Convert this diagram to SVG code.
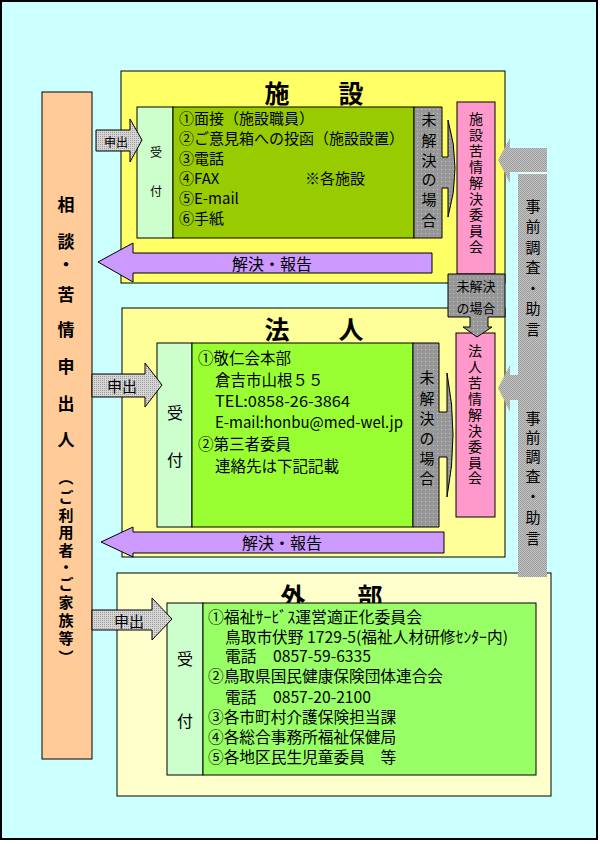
<svg xmlns="http://www.w3.org/2000/svg" width="600" height="844" viewBox="0 0 600 844">
<style>
text{font-family:"Noto Sans CJK JP","Noto Sans",sans-serif;fill:#000;dominant-baseline:central}
.ln{stroke:#000;stroke-width:1}
.t14{font-size:14px}
.t15{font-size:15px}
.t155{font-size:15.5px}
.t157{font-size:15.7px}
.t12{font-size:12px}
.t13{font-size:13px}
.t16{font-size:16px}
.ttl{font-size:25px;font-weight:bold}
.c{text-anchor:middle}
</style>
<defs>
<pattern id="pl" width="2" height="2" patternUnits="userSpaceOnUse"><rect width="2" height="2" fill="#D6D6D6"/><rect width="1" height="1" fill="#9C9C9C"/></pattern>
<pattern id="pd" width="4" height="4" patternUnits="userSpaceOnUse"><rect width="4" height="4" fill="#979797"/><rect x="1" y="1" width="1" height="1" fill="#C4C4C4"/></pattern>
<pattern id="pm" width="2" height="2" patternUnits="userSpaceOnUse"><rect width="2" height="2" fill="#C6C6C6"/><rect width="1" height="1" fill="#9A9A9A"/><rect x="1" y="1" width="1" height="1" fill="#9A9A9A"/></pattern>
</defs>

<rect x="1" y="1" width="596" height="838" fill="#CCFFFF" stroke="#000" stroke-width="2"/>

<g id="applicant">
<rect class="ln" x="42" y="92" width="50" height="667" fill="#FFCC99"/>
<text class="c" style="font-size:17px;font-weight:bold"><tspan x="66" y="203">相</tspan><tspan x="66" y="240">談</tspan><tspan x="66" y="263">・</tspan><tspan x="66" y="293">苦</tspan><tspan x="66" y="328">情</tspan><tspan x="66" y="365">申</tspan><tspan x="66" y="402">出</tspan><tspan x="66" y="438">人</tspan></text>
<text class="c" style="font-size:15px;font-weight:bold"><tspan x="66" y="476">︵</tspan><tspan x="66" y="496">ご</tspan><tspan x="66" y="514">利</tspan><tspan x="66" y="531">用</tspan><tspan x="66" y="549">者</tspan><tspan x="66" y="566">・</tspan><tspan x="66" y="583">ご</tspan><tspan x="66" y="601">家</tspan><tspan x="66" y="619">族</tspan><tspan x="66" y="637">等</tspan><tspan x="66" y="656">︶</tspan></text>
</g>

<g id="shisetsu">
<rect class="ln" x="121" y="71" width="384" height="212" fill="#FFFF66"/>
<text class="ttl c"><tspan x="277" y="92">施</tspan><tspan x="351" y="92">設</tspan></text>
<rect class="ln" x="137" y="107" width="36" height="131" fill="#CCFFCC"/>
<text class="t12 c"><tspan x="156" y="151">受</tspan><tspan x="156" y="190">付</tspan></text>
<rect class="ln" x="173" y="107" width="241" height="131" fill="#99CC00"/>
<text class="t15"><tspan x="179" y="117">①面接（施設職員）</tspan><tspan x="179" y="137">②ご意見箱への投函（施設設置）</tspan><tspan x="179" y="157">③電話</tspan><tspan x="179" y="177">④FAX</tspan><tspan x="305" y="177">※各施設</tspan><tspan x="179" y="197">⑤E-mail</tspan><tspan x="179" y="217">⑥手紙</tspan></text>
<path class="ln" d="M414,107 H442 V157 H448 V120 Q462,168 448,217 V188 H442 V238 H414 Z" fill="url(#pd)"/>
<text class="t15 c"><tspan x="429" y="118">未</tspan><tspan x="429" y="139">解</tspan><tspan x="429" y="159">決</tspan><tspan x="429" y="178">の</tspan><tspan x="429" y="198">場</tspan><tspan x="429" y="219">合</tspan></text>
</g>

<g id="shisetsu-committee">
<rect class="ln" x="457" y="102" width="38" height="172" fill="#FF99CC"/>
<text class="t14 c"><tspan x="476" y="118">施</tspan><tspan x="476" y="134">設</tspan><tspan x="476" y="150">苦</tspan><tspan x="476" y="166">情</tspan><tspan x="476" y="182">解</tspan><tspan x="476" y="198">決</tspan><tspan x="476" y="214">委</tspan><tspan x="476" y="230">員</tspan><tspan x="476" y="246">会</tspan></text>
</g>

<g id="houjin">
<rect class="ln" x="122" y="308" width="383" height="249" fill="#FFFF99"/>
<text class="ttl c"><tspan x="277" y="328">法</tspan><tspan x="351" y="328">人</tspan></text>
<rect class="ln" x="157" y="343" width="35" height="184" fill="#CCFFCC"/>
<text class="t16 c"><tspan x="175" y="412">受</tspan><tspan x="175" y="459">付</tspan></text>
<rect class="ln" x="192" y="343" width="221" height="184" fill="#99FF33"/>
<text class="t155"><tspan x="198" y="357">①敬仁会本部</tspan><tspan x="215" y="379">倉吉市山根５５</tspan></text>
<text class="t155" x="215" y="400" textLength="135" lengthAdjust="spacingAndGlyphs">TEL:0858-26-3864</text>
<text class="t155" x="215" y="421" textLength="188" lengthAdjust="spacingAndGlyphs">E-mail:honbu@med-wel.jp</text>
<text class="t155"><tspan x="198" y="443">②第三者委員</tspan><tspan x="215" y="465">連絡先は下記記載</tspan></text>
<path class="ln" d="M413,343 H439 V412 H447 V373 Q459,435 447,497 V457 H439 V527 H413 Z" fill="url(#pd)"/>
<text class="t15 c"><tspan x="427" y="376">未</tspan><tspan x="427" y="397">解</tspan><tspan x="427" y="417">決</tspan><tspan x="427" y="437">の</tspan><tspan x="427" y="457">場</tspan><tspan x="427" y="477">合</tspan></text>
</g>

<g id="houjin-committee">
<rect class="ln" x="456" y="333" width="39" height="184" fill="#FF99CC"/>
<text class="t14 c"><tspan x="475" y="350">法</tspan><tspan x="475" y="366">人</tspan><tspan x="475" y="382">苦</tspan><tspan x="475" y="398">情</tspan><tspan x="475" y="414">解</tspan><tspan x="475" y="430">決</tspan><tspan x="475" y="446">委</tspan><tspan x="475" y="462">員</tspan><tspan x="475" y="477">会</tspan></text>
</g>

<g id="gaibu">
<rect class="ln" x="117" y="573" width="434" height="223" fill="#FFFFCC"/>
<text class="ttl c"><tspan x="293" y="595">外</tspan><tspan x="370" y="595">部</tspan></text>
<rect class="ln" x="167" y="603" width="36" height="172" fill="#CCFFCC"/>
<text class="t16 c"><tspan x="185" y="658">受</tspan><tspan x="185" y="720">付</tspan></text>
<rect class="ln" x="203" y="603" width="333" height="172" fill="#99FF66"/>
<text class="t157" x="208" y="616" textLength="214" lengthAdjust="spacingAndGlyphs">①福祉ｻｰﾋﾞｽ運営適正化委員会</text>
<text class="t157" x="225" y="636" textLength="283" lengthAdjust="spacingAndGlyphs">鳥取市伏野 1729-5(福祉人材研修ｾﾝﾀｰ内)</text>
<text class="t157"><tspan x="225" y="655">電話</tspan><tspan x="273" y="655">0857-59-6335</tspan></text>
<text class="t157" x="208" y="675" textLength="235" lengthAdjust="spacingAndGlyphs">②鳥取県国民健康保険団体連合会</text>
<text class="t157"><tspan x="225" y="696">電話</tspan><tspan x="273" y="696">0857-20-2100</tspan></text>
<text class="t157"><tspan x="208" y="716">③各市町村介護保険担当課</tspan><tspan x="208" y="736">④各総合事務所福祉保健局</tspan><tspan x="208" y="756">⑤各地区民生児童委員　等</tspan></text>
</g>

<g id="advice">
<rect x="518" y="174" width="29" height="403" fill="url(#pm)"/>
<path d="M547,148 H510 V138 L498,160 L510,183 V172 H547 Z" fill="url(#pm)"/>
<line x1="518" y1="173" x2="547" y2="173" stroke="#FFFFFF" stroke-width="1"/>
<path d="M518,375 H510 V365 L498,388 L510,412 V400 H518 Z" fill="url(#pm)"/>
<text class="t15 c"><tspan x="533" y="205">事</tspan><tspan x="533" y="225">前</tspan><tspan x="533" y="246">調</tspan><tspan x="533" y="266">査</tspan><tspan x="533" y="287">・</tspan><tspan x="533" y="307">助</tspan><tspan x="533" y="328">言</tspan><tspan x="533" y="417">事</tspan><tspan x="533" y="436">前</tspan><tspan x="533" y="455">調</tspan><tspan x="533" y="475">査</tspan><tspan x="533" y="495">・</tspan><tspan x="533" y="516">助</tspan><tspan x="533" y="537">言</tspan></text>
</g>

<g id="connectors">
<path class="ln" d="M448,274 H505 V317 H488 V327 H492 L477,337 L463,327 H470 V317 H448 Z" fill="url(#pd)"/>
<text class="t13 c"><tspan x="476" y="285">未解決</tspan><tspan x="476" y="307">の場合</tspan></text>
<path class="ln" d="M96,130 H130 V119 L142,140 L130,162 V151 H96 Z" fill="url(#pl)"/>
<text class="t12 c" x="116" y="141">申出</text>
<path class="ln" d="M92,374 H145 V363 L162,385 L145,407 V397 H92 Z" fill="url(#pl)"/>
<text class="t15 c" x="122" y="385">申出</text>
<path class="ln" d="M92,610 H152 V598 L172,619 L152,640 V630 H92 Z" fill="url(#pl)"/>
<text class="t15 c" x="129" y="620">申出</text>
<path class="ln" d="M432,253 H133 V243 L98,262 L133,282 V273 H432 Z" fill="#CC99FF"/>
<text class="t16 c" x="272" y="263">解決・報告</text>
<path class="ln" d="M444,532 H133 V527 L101,542 L133,557 V553 H444 Z" fill="#CC99FF"/>
<text class="t16 c" x="282" y="542">解決・報告</text>
</g>
</svg>
